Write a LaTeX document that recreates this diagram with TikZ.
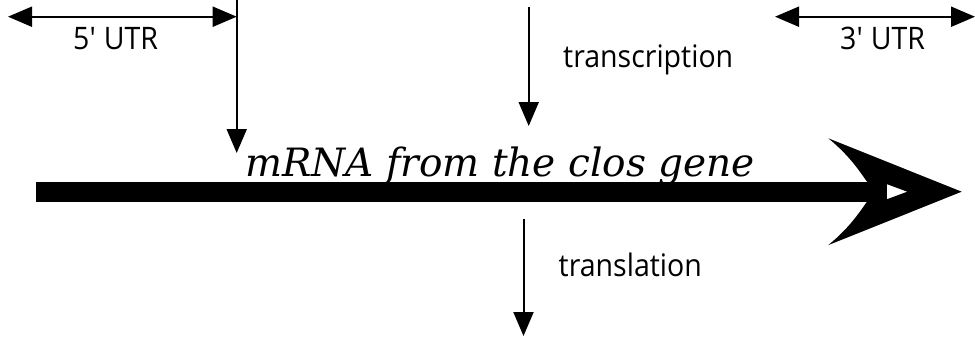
\documentclass[tikz,border=0pt]{standalone}
\usepackage{fontspec}
\setmainfont{Open Sans}
\newfontfamily\labelfont[FakeStretch=0.92]{Open Sans}
\newfontfamily\genefont{DejaVu Serif}
\usetikzlibrary{arrows.meta}
\tikzset{
  lbl/.style={inner sep=0pt,anchor=base west,font=\labelfont\fontsize{31}{36}\selectfont},
  gene/.style={inner sep=0pt,anchor=base west,font=\genefont\itshape\fontsize{39}{46}\selectfont},
  flow/.style={->,line width=2pt},
  span/.style={<->,line width=2pt},
}

\begin{document}
\begin{tikzpicture}[>={Triangle[length=24pt,width=20pt]},x=1pt,y=-1pt]
  \useasboundingbox (0,0) rectangle (975,337);
  \coordinate (utr5l) at (8,16.7);
  \coordinate (utr5r) at (236.7,16.7);
  \coordinate (utr3l) at (775,16.7);
  \coordinate (utr3r) at (975,16.7);
  \coordinate (cut) at (236.7,0);
  \coordinate (cuttip) at (236.7,153);
  \coordinate (txtop) at (528.7,7);
  \coordinate (txtip) at (528.7,126);
  \coordinate (tltop) at (523.5,219);
  \coordinate (tltip) at (523.5,336);
  \node[lbl] (utr5) at (73,50) {5\textquotesingle{} UTR};
  \node[lbl] (utr3) at (840,50) {3\textquotesingle{} UTR};
  \node[lbl] (transcription) at (563,67.3) {transcription};
  \node[lbl] (translation) at (558.5,276.7) {translation};
  \node[gene] (mrna) at (245,176) {mRNA from the clos gene};
  \draw[span] (utr5l) -- (utr5r);
  \draw[span] (utr3l) -- (utr3r);
  \draw[flow] (cut) -- (cuttip);
  \draw[flow] (txtop) -- (txtip);
  \draw[flow] (tltop) -- (tltip);
  % the big arrow under the message
  \fill (35.7,181.7) rectangle (887.3,201.7);
  \fill (961.7,191.7) -- (828.3,138.3) .. controls (850,156) and (860,172) .. (867,181.7)
    -- (887.3,184.3) -- (907.3,191.7) -- (887.3,199.1) -- (867,201.7)
    .. controls (860,211.4) and (850,227.4) .. (828.3,245.1) -- cycle;
\end{tikzpicture}
\end{document}
